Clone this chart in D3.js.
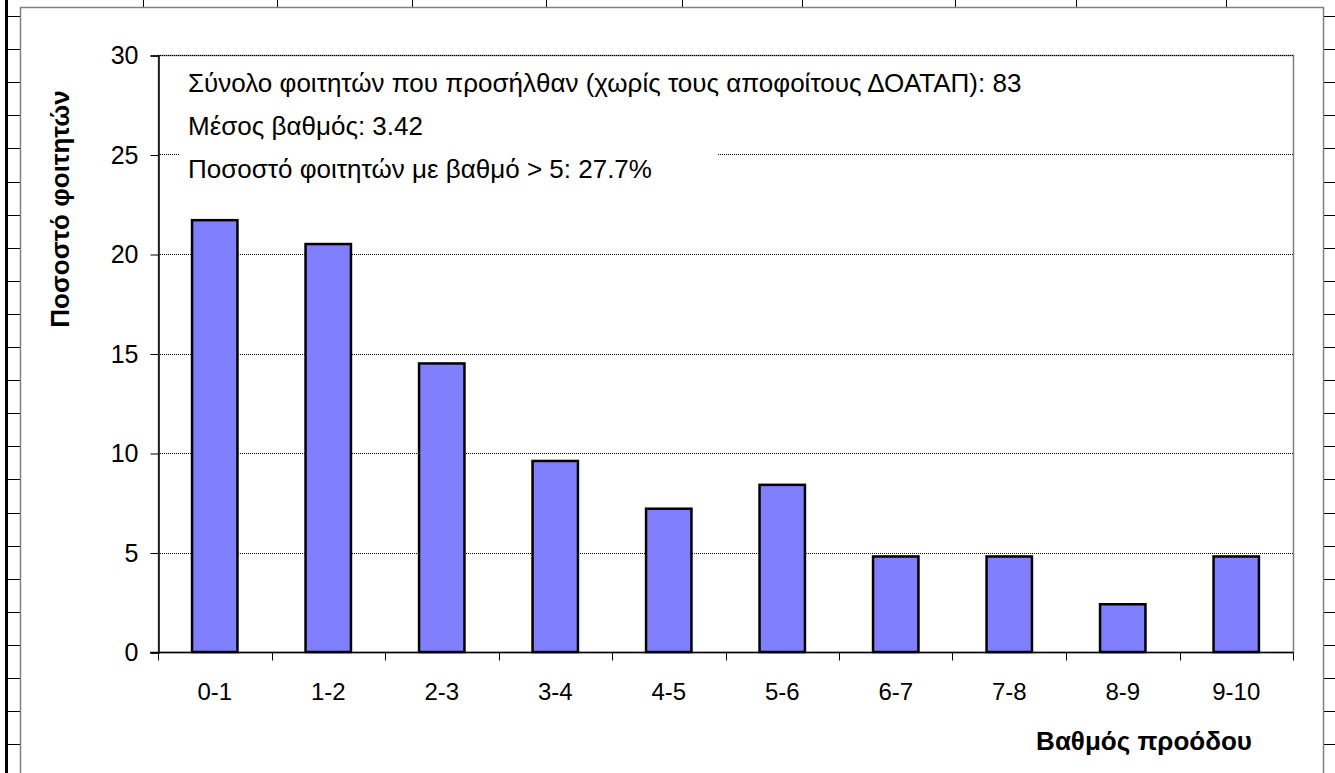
<!DOCTYPE html>
<html>
<head>
<meta charset="utf-8">
<script src="https://cdn.jsdelivr.net/npm/d3@7"></script>
<style>
    body { margin: 0; background: #fff; }
    svg { display: block; font-family: "Liberation Sans", Arial, sans-serif; }
</style>
</head>
<body>
<svg id="chart" width="1335" height="773"></svg>
<script>
// grade bands and percentage of students
var categories = ['0-1', '1-2', '2-3', '3-4', '4-5', '5-6', '6-7', '7-8', '8-9', '9-10'];
var percents = [21.7, 20.5, 14.5, 9.6, 7.2, 8.4, 4.8, 4.8, 2.4, 4.8];
var yTicks = [0, 5, 10, 15, 20, 25, 30];
var infoLines = [
    'Σύνολο φοιτητών που προσήλθαν (χωρίς τους αποφοίτους ΔΟΑΤΑΠ): 83',
    'Μέσος βαθμός: 3.42',
    'Ποσοστό φοιτητών με βαθμό > 5: 27.7%'
];
// spreadsheet cell borders around the embedded chart
var colEdges = [143, 277, 412, 546, 682, 802, 955, 1076, 1226];
var rowEdges = d3.range(16, 773, 33.1);

var svg = d3.select('#chart');
var plot = { left: 158, right: 1293, top: 55, bottom: 652 };

// sheet background bits
var sheet = svg.append('g').attr('class', 'sheet');
sheet.append('line')
    .attr('x1', 6.5).attr('x2', 6.5).attr('y1', 0).attr('y2', 773)
    .attr('stroke', '#000').attr('stroke-width', 3);
sheet.selectAll('line.rowL').data(rowEdges).enter().append('line')
    .attr('class', 'rowL')
    .attr('x1', 8).attr('x2', 20)
    .attr('y1', function (d) { return Math.round(d) + 0.5; })
    .attr('y2', function (d) { return Math.round(d) + 0.5; })
    .attr('stroke', '#000');
sheet.selectAll('line.rowR').data(rowEdges).enter().append('line')
    .attr('class', 'rowR')
    .attr('x1', 1324).attr('x2', 1335)
    .attr('y1', function (d) { return Math.round(d) + 0.5; })
    .attr('y2', function (d) { return Math.round(d) + 0.5; })
    .attr('stroke', '#000');
sheet.selectAll('line.col').data(colEdges).enter().append('line')
    .attr('class', 'col')
    .attr('x1', function (d) { return d + 0.5; })
    .attr('x2', function (d) { return d + 0.5; })
    .attr('y1', 0).attr('y2', 7)
    .attr('stroke', '#000');

// chart area
svg.append('rect')
    .attr('x', 20.5).attr('y', 7.5).attr('width', 1303).attr('height', 780)
    .attr('fill', '#fff').attr('stroke', '#808080').attr('stroke-width', 1.5);

var x = d3.scaleBand().domain(categories).range([plot.left, plot.right]).paddingInner(0.6).paddingOuter(0.3);
var xEdge = d3.scaleLinear().domain([0, categories.length]).range([plot.left, plot.right]);
var y = d3.scaleLinear().domain([0, 30]).range([plot.bottom, plot.top]);

var g = svg.append('g');

// plot area border
g.append('rect')
    .attr('x', plot.left + 0.5).attr('y', y(30) + 0.5)
    .attr('width', plot.right - plot.left).attr('height', plot.bottom - plot.top)
    .attr('fill', 'none').attr('stroke', '#808080').attr('stroke-width', 1.5);

// gridlines
g.selectAll('line.grid').data(yTicks.filter(function (d) { return d > 0; })).enter().append('line')
    .attr('class', 'grid')
    .attr('x1', plot.left).attr('x2', plot.right)
    .attr('y1', function (d) { return Math.round(y(d)) + 0.5; })
    .attr('y2', function (d) { return Math.round(y(d)) + 0.5; })
    .attr('stroke', '#000').attr('stroke-dasharray', '1,1');

// info text box
g.append('rect')
    .attr('x', 180).attr('y', 62).attr('width', 538).attr('height', 130)
    .attr('fill', '#fff');
g.selectAll('text.info').data(infoLines).enter().append('text')
    .attr('class', 'info')
    .attr('x', 188)
    .attr('y', function (d, i) { return 92 + i * 43; })
    .style('font-size', '26px')
    .text(function (d) { return d; });

// bars
g.selectAll('rect.bar').data(percents).enter().append('rect')
    .attr('class', 'bar')
    .attr('x', function (d, i) { return x(categories[i]); })
    .attr('width', x.bandwidth())
    .attr('y', function (d) { return y(d); })
    .attr('height', function (d) { return y(0) - y(d); })
    .attr('fill', '#8080ff').attr('stroke', '#000').attr('stroke-width', 2.5);

// y axis
var yAxis = d3.axisLeft(y).tickValues(yTicks).tickSize(8).tickPadding(12);
var yG = g.append('g').attr('transform', 'translate(' + (plot.left + 0.5) + ',0.5)').call(yAxis);
yG.select('.domain').attr('stroke', '#000').attr('stroke-width', 1.5);
yG.selectAll('text').style('font-size', '25px').attr('fill', '#000').attr('font-family', null);

// x axis: ticks at band edges
var xG = g.append('g').attr('transform', 'translate(0,' + (plot.bottom + 0.5) + ')');
xG.append('line').attr('x1', plot.left - 8).attr('x2', plot.right).attr('stroke', '#000').attr('stroke-width', 1.5);
xG.selectAll('line.tick').data(d3.range(categories.length + 1)).enter().append('line')
    .attr('class', 'tick')
    .attr('x1', function (d) { return Math.round(xEdge(d)) + 0.5; })
    .attr('x2', function (d) { return Math.round(xEdge(d)) + 0.5; })
    .attr('y1', 0).attr('y2', 8).attr('stroke', '#000');
xG.selectAll('text').data(categories).enter().append('text')
    .attr('x', function (d) { return x(d) + x.bandwidth() / 2; })
    .attr('y', 47)
    .attr('text-anchor', 'middle')
    .style('font-size', '24px')
    .text(function (d) { return d; });

// axis titles
svg.append('text')
    .attr('x', 1252).attr('y', 750)
    .attr('text-anchor', 'end')
    .style('font-size', '26px').style('font-weight', 'bold')
    .text('Βαθμός προόδου');
svg.append('text')
    .attr('transform', 'translate(69,209) rotate(-90)')
    .attr('text-anchor', 'middle')
    .style('font-size', '26px').style('font-weight', 'bold')
    .text('Ποσοστό φοιτητών');
</script>
</body>
</html>
